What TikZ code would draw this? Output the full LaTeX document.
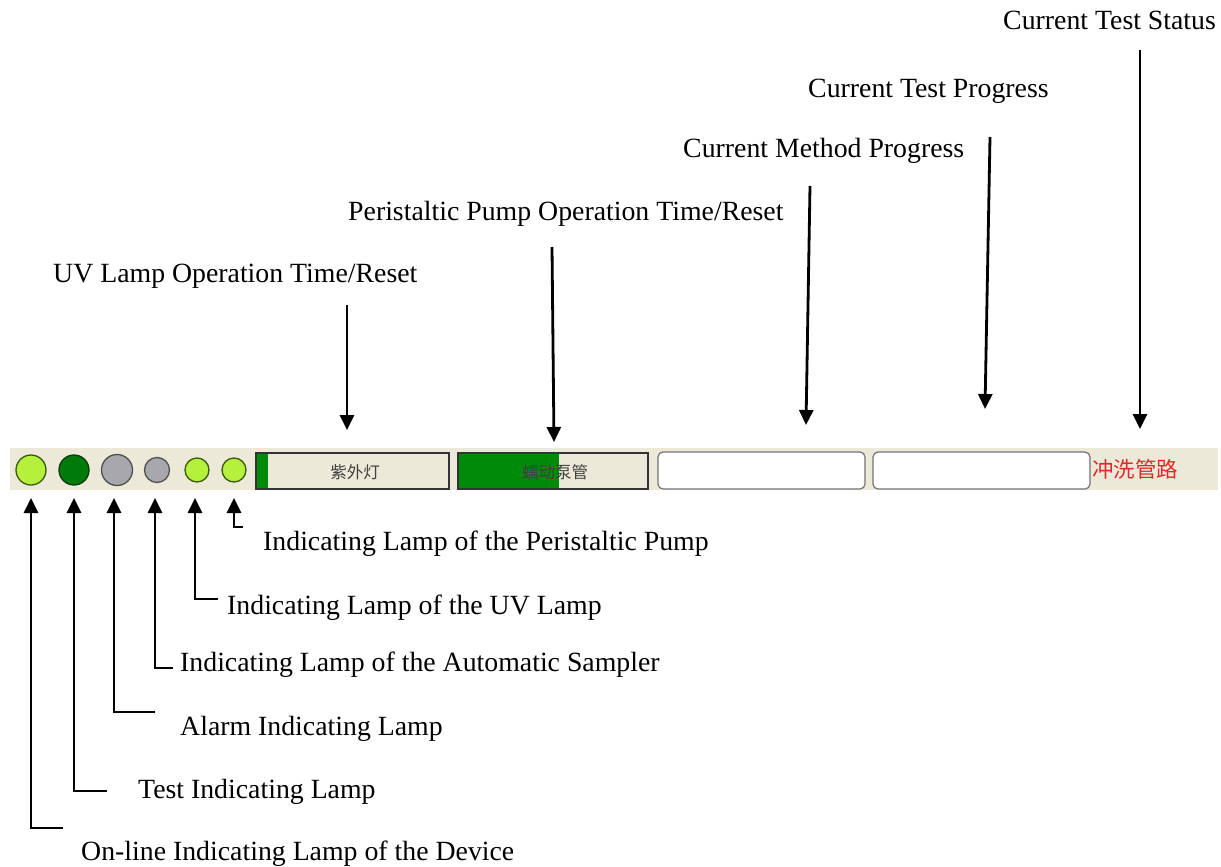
\documentclass[tikz,border=0pt]{standalone}
\usepackage{fontspec}
\setmainfont{Liberation Serif}
\newfontfamily\cjk{Noto Sans CJK SC}
\usetikzlibrary{arrows.meta}
\definecolor{barbg}{HTML}{ECE9D8}
\definecolor{lime}{HTML}{B4F03C}
\definecolor{limeedge}{HTML}{3C5A0A}
\definecolor{dkgreen}{HTML}{007A0A}
\definecolor{dkgreenedge}{HTML}{0A3C0A}
\definecolor{lampgray}{HTML}{A8A8AC}
\definecolor{grayedge}{HTML}{505050}
\definecolor{barfill}{HTML}{008A0A}
\definecolor{redtxt}{HTML}{E0282A}
\tikzset{
  lbl/.style={anchor=base west, inner sep=0pt, font=\fontsize{27.8}{30}\selectfont},
  arr/.style={line width=2.8pt, -{Triangle[width=14pt,length=15pt]}},
  lamp/.style={circle, inner sep=0pt, line width=1.3pt},
  limelamp/.style={lamp, fill=lime, draw=limeedge},
  greenlamp/.style={lamp, fill=dkgreen, draw=dkgreenedge},
  graylamp/.style={lamp, fill=lampgray, draw=grayedge},
  gaugebox/.style={draw=black!80, line width=1.2pt, fill=barbg},
  progbox/.style={draw=black!55, line width=1.2pt, fill=white, rounded corners=5pt},
  cjktext/.style={font=\cjk\fontsize{16.5}{18}\selectfont, text=black!75, inner sep=0pt}
}
\begin{document}
\begin{tikzpicture}[x=1pt,y=-1pt]
\useasboundingbox (0,0) rectangle (1221,867);
% toolbar strip
\fill[barbg] (10,448) rectangle (1218,490);
% lamps
\node[limelamp, minimum size=30pt] (l1) at (31,470) {};
\node[greenlamp, minimum size=30pt] (l2) at (74,470) {};
\node[graylamp, minimum size=31pt] (l3) at (117,470) {};
\node[graylamp, minimum size=25pt] (l4) at (157,470) {};
\node[limelamp, minimum size=24pt] (l5) at (197,470) {};
\node[limelamp, minimum size=24pt] (l6) at (234,470) {};
% gauge boxes
\draw[gaugebox] (256,453) rectangle (449,489);
\fill[barfill] (257,454) rectangle (268,488);
\node[cjktext] (uvbox) at (355,472) {紫外灯};
\draw[gaugebox] (458,453) rectangle (648,489);
\fill[barfill] (459,454) rectangle (559,488);
\node[cjktext] (pumpbox) at (555,472) {蠕动泵管};
% progress boxes
\node[progbox, minimum width=207pt, minimum height=37pt] (mbox) at (761.5,470.5) {};
\node[progbox, minimum width=217pt, minimum height=37pt] (tbox) at (981.5,470.5) {};
\node[font=\cjk\fontsize{21.5}{23}\selectfont, text=redtxt, inner sep=0pt, anchor=west] (status) at (1092,469) {冲洗管路};
% top labels
\node[lbl] (tUV) at (53,282) {UV Lamp Operation Time/Reset};
\node[lbl] (tPP) at (348,220) {Peristaltic Pump Operation Time/Reset};
\node[lbl] (tMP) at (683,157) {Current Method Progress};
\node[lbl] (tTP) at (808,97) {Current Test Progress};
\node[lbl] (tTS) at (1003,30) {Current Test Status};
% top arrow coordinates
\coordinate (sUV) at (347,305); \coordinate (eUV) at (347,430);
\coordinate (sPP) at (552,247); \coordinate (ePP) at (554,442);
\coordinate (sMP) at (810,186); \coordinate (eMP) at (806,425);
\coordinate (sTP) at (990,137); \coordinate (eTP) at (985,409);
\coordinate (sTS) at (1140,50); \coordinate (eTS) at (1140,429);
\draw[arr] (sUV) -- (eUV);
\draw[arr] (sPP) -- (ePP);
\draw[arr] (sMP) -- (eMP);
\draw[arr] (sTP) -- (eTP);
\draw[arr] (sTS) -- (eTS);
% bottom labels
\node[lbl] (b6) at (263,550) {Indicating Lamp of the Peristaltic Pump};
\node[lbl] (b5) at (227,614) {Indicating Lamp of the UV Lamp};
\node[lbl] (b4) at (180,671) {Indicating Lamp of the Automatic Sampler};
\node[lbl] (b3) at (180,735) {Alarm Indicating Lamp};
\node[lbl] (b2) at (138,798) {Test Indicating Lamp};
\node[lbl] (b1) at (81,860) {On-line Indicating Lamp of the Device};
% bottom connectors
\coordinate (h1) at (63,828);  \coordinate (k1) at (31,828);  \coordinate (p1) at (31,498);
\coordinate (h2) at (107,791); \coordinate (k2) at (74,791);  \coordinate (p2) at (74,498);
\coordinate (h3) at (155,712); \coordinate (k3) at (114,712); \coordinate (p3) at (114,498);
\coordinate (h4) at (173,668); \coordinate (k4) at (155,668); \coordinate (p4) at (155,498);
\coordinate (h5) at (218,599); \coordinate (k5) at (195,599); \coordinate (p5) at (195,498);
\coordinate (h6) at (243,527); \coordinate (k6) at (234,527); \coordinate (p6) at (234,498);
\foreach \i in {1,...,6}{
  \draw[arr] (h\i) -- (k\i) -- (p\i);
}
\end{tikzpicture}
\end{document}
